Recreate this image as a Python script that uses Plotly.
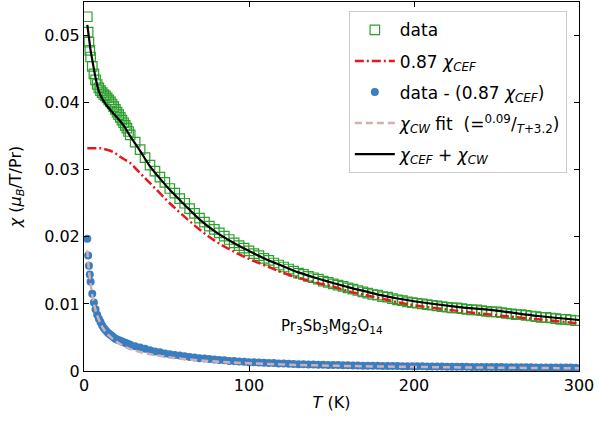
import plotly.graph_objects as go

# ---------------- data ----------------
T_data = [2, 2.5, 3, 3.5, 4, 5, 6, 7, 8, 9, 10, 11, 12, 13, 14, 15, 16, 17, 18, 19,
          20, 21, 22, 23, 24, 25, 26, 27,
          28, 31, 34, 37, 40, 43, 46, 49, 52, 55, 58, 61, 64, 67, 70, 73, 76, 79,
          82, 85, 88, 91, 94, 97, 100, 103, 106, 109, 112, 115, 118, 121, 124, 127,
          130, 133, 136, 139, 142, 145, 148, 151, 154, 157, 160, 163, 166, 169, 172,
          175, 178, 181, 184, 187, 190, 193, 196, 199, 202, 205, 208, 211, 214, 217,
          220, 223, 226, 229, 232, 235, 238, 241, 244, 247, 250, 253, 256, 259, 262,
          265, 268, 271, 274, 277, 280, 283, 286, 289, 292, 295, 298]

chi_data = [0.0528, 0.0505, 0.0490, 0.0478, 0.0468, 0.0454, 0.0443, 0.0434, 0.0427, 0.0422,
            0.0418, 0.0415, 0.0412, 0.0410, 0.0407, 0.0404, 0.0401, 0.0398, 0.0394, 0.0390,
            0.0386, 0.0382, 0.0378, 0.0374, 0.0370, 0.0366, 0.0362, 0.0357,
            0.0352, 0.0341, 0.0330, 0.0318, 0.0307, 0.0298, 0.0289, 0.0281, 0.0272, 0.0265,
            0.0257, 0.0250, 0.0242, 0.0235, 0.0228, 0.0222, 0.0216, 0.0211, 0.0206, 0.0201,
            0.0196, 0.0191, 0.0187, 0.0183, 0.0179, 0.0175, 0.0172, 0.0168, 0.0165, 0.0161,
            0.0158, 0.0155, 0.0152, 0.0149, 0.0146, 0.0144, 0.0141, 0.0139, 0.0137, 0.0134,
            0.0132, 0.0130, 0.0128, 0.0126, 0.0124, 0.0122, 0.0120, 0.0118, 0.0116, 0.0114,
            0.0113, 0.0111, 0.0110, 0.0108, 0.0106, 0.0105, 0.0103, 0.0102, 0.0101, 0.0100,
            0.0099, 0.0098, 0.0097, 0.0096, 0.0095, 0.0094, 0.0094, 0.0093, 0.0092, 0.0091,
            0.0091, 0.0090, 0.0089, 0.0088, 0.0088, 0.0087, 0.0086, 0.0085, 0.0084, 0.0084,
            0.0083, 0.0082, 0.0081, 0.0080, 0.0080, 0.0079, 0.0078, 0.0077, 0.0077, 0.0076,
            0.0075]

chi_diff = [0.0197, 0.0172, 0.0157, 0.0144, 0.0133, 0.0115, 0.0102, 0.0092, 0.0084, 0.0078,
            0.0073, 0.0068, 0.0064, 0.0061, 0.0058, 0.0056, 0.0054, 0.0052, 0.0050, 0.0048,
            0.0047, 0.0046, 0.0045, 0.0044, 0.0043, 0.0042, 0.0041, 0.0040,
            0.0039, 0.0037, 0.0035, 0.0033, 0.0031, 0.0029, 0.0028, 0.0026, 0.0025, 0.0024,
            0.0023, 0.0022, 0.0021, 0.0020, 0.0019, 0.00185, 0.0018, 0.0017, 0.00165, 0.0016,
            0.0015, 0.00148, 0.0014, 0.00138, 0.0013, 0.00132, 0.00127, 0.00122, 0.0012, 0.00118,
            0.00112, 0.0011, 0.00108, 0.00106, 0.00102, 0.001, 0.00098, 0.00097, 0.00093, 0.00092,
            0.0009, 0.0009, 0.00088, 0.00086, 0.00084, 0.00083, 0.00082, 0.0008, 0.0008, 0.00078,
            0.00077, 0.00076, 0.00075, 0.00074, 0.00073, 0.00072, 0.00071, 0.0007, 0.0007, 0.00069,
            0.00068, 0.00067, 0.00066, 0.00066, 0.00065, 0.00064, 0.00063, 0.00063, 0.00062, 0.00061,
            0.00061, 0.0006, 0.0006, 0.00059, 0.00058, 0.00058, 0.00057, 0.00057, 0.00056, 0.00056,
            0.00055, 0.00055, 0.00054, 0.00054, 0.00053, 0.00053, 0.00052, 0.00052, 0.00051, 0.00051,
            0.0005]

T_cef = [2, 5, 8, 10, 12, 15, 18, 21, 24, 28, 32, 36, 40, 46, 52, 60, 70, 80, 90, 100,
         110, 120, 131, 140, 151, 160, 171, 180, 191, 200, 225, 250, 275, 300]
chi_cef = [0.0332, 0.0332, 0.0332, 0.0332, 0.0331, 0.0329, 0.0326, 0.0321, 0.0316, 0.0310,
           0.0300, 0.0290, 0.0280, 0.0265, 0.0250, 0.0232, 0.0211, 0.0193, 0.0179, 0.0167,
           0.0157, 0.0147, 0.0138, 0.0132, 0.0126, 0.0119, 0.0113, 0.0108, 0.0102, 0.0098,
           0.0090, 0.0083, 0.0077, 0.0071]

T_cw = [2, 3, 4, 5, 6, 8, 10, 12, 15, 20, 25, 30, 40, 50, 60, 80, 100, 130, 160, 200, 250, 300]
chi_cw = [0.0180, 0.0150, 0.0130, 0.0113, 0.0100, 0.0083, 0.0071, 0.0062, 0.0053, 0.0043,
          0.0036, 0.0031, 0.0025, 0.0021, 0.0018, 0.0014, 0.00115, 0.0009, 0.00075, 0.0006,
          0.0005, 0.0004]

T_tot = [2, 3, 4, 5, 6, 7, 8, 9, 10, 12, 14, 16, 20, 24, 28, 34, 40, 46, 52, 60, 70, 80,
         90, 100, 110, 120, 130, 140, 150, 160, 170, 180, 190, 200, 225, 250, 275, 300]
chi_tot = [0.0516, 0.0497, 0.0478, 0.0464, 0.0450, 0.0437, 0.0426, 0.0417, 0.0411, 0.0402,
           0.0395, 0.0389, 0.0378, 0.0366, 0.0350, 0.0328, 0.0305, 0.0287, 0.0270, 0.0250,
           0.0226, 0.0207, 0.0192, 0.0179, 0.0167, 0.0157, 0.0147, 0.0139, 0.0132, 0.0125,
           0.0119, 0.0113, 0.0108, 0.0104, 0.0096, 0.0090, 0.0082, 0.0076]

x_ticks = [0, 100, 200, 300]
x_ticklabels = ["0", "100", "200", "300"]
y_ticks = [0, 0.01, 0.02, 0.03, 0.04, 0.05]
y_ticklabels = ["0", "0.01", "0.02", "0.03", "0.04", "0.05"]

FONT = "DejaVu Sans"

fig = go.Figure()

fig.add_trace(go.Scatter(
    x=T_data, y=chi_data, mode="markers", name="data", legendgroup="a",
    marker=dict(symbol="square-open", size=9.5, color="#2ca02c", line=dict(width=1.2)),
))
fig.add_trace(go.Scatter(
    x=T_cef, y=chi_cef, mode="lines", name="0.87 <i>χ<sub>CEF</sub></i>", legendgroup="b",
    line=dict(color="#e8171c", width=2.5, dash="9px,3px,2px,3px", shape="spline"),
))
fig.add_trace(go.Scatter(
    x=T_data, y=chi_diff, mode="markers", name="data - (0.87 <i>χ<sub>CEF</sub></i>)",
    legendgroup="c",
    marker=dict(symbol="circle", size=8, color="#3a7dc0"),
))
fig.add_trace(go.Scatter(
    x=T_cw, y=chi_cw, mode="lines", legendgroup="d",
    name="<i>χ<sub>CW</sub></i> fit  (=<sup>0.09</sup>/<sub><i>T</i>+3.2</sub>)",
    line=dict(color="#d2b0b0", width=2.5, dash="7px,4px", shape="spline"),
))
fig.add_trace(go.Scatter(
    x=T_tot, y=chi_tot, mode="lines", legendgroup="e",
    name="<i>χ<sub>CEF</sub></i> + <i>χ<sub>CW</sub></i>",
    line=dict(color="black", width=2.2, shape="spline"),
))

fig.add_annotation(
    x=150, y=0.0066, xref="x", yref="y", showarrow=False,
    text="Pr<sub>3</sub>Sb<sub>3</sub>Mg<sub>2</sub>O<sub>14</sub>",
    font=dict(family=FONT, size=15, color="black"),
)

axis_common = dict(
    showgrid=False, zeroline=False, showline=True, linecolor="black", linewidth=1,
    mirror="ticks", ticks="inside", ticklen=5, tickwidth=1, tickcolor="black",
    tickfont=dict(family=FONT, size=16, color="black"),
)

fig.update_layout(
    width=598, height=424,
    margin=dict(l=84, r=19, t=2, b=53),
    paper_bgcolor="white", plot_bgcolor="white",
    font=dict(family=FONT, size=16, color="black"),
    showlegend=True,
    legend=dict(
        x=0.535, y=0.975, xanchor="left", yanchor="top",
        bgcolor="rgba(255,255,255,0.9)", bordercolor="#cccccc", borderwidth=1,
        font=dict(family=FONT, size=17, color="black"),
        tracegroupgap=6, itemwidth=40,
    ),
    xaxis=dict(
        range=[0, 300], tickvals=x_ticks, ticktext=x_ticklabels,
        title=dict(text="<i>T</i> (K)", font=dict(family=FONT, size=16), standoff=2),
        **axis_common,
    ),
    yaxis=dict(
        range=[0, 0.055], tickvals=y_ticks, ticktext=y_ticklabels,
        title=dict(text="<i>χ</i> (<i>μ<sub>B</sub></i>/T/Pr)", font=dict(family=FONT, size=16),
                   standoff=18),
        **axis_common,
    ),
)

fig.write_html("out.html")
